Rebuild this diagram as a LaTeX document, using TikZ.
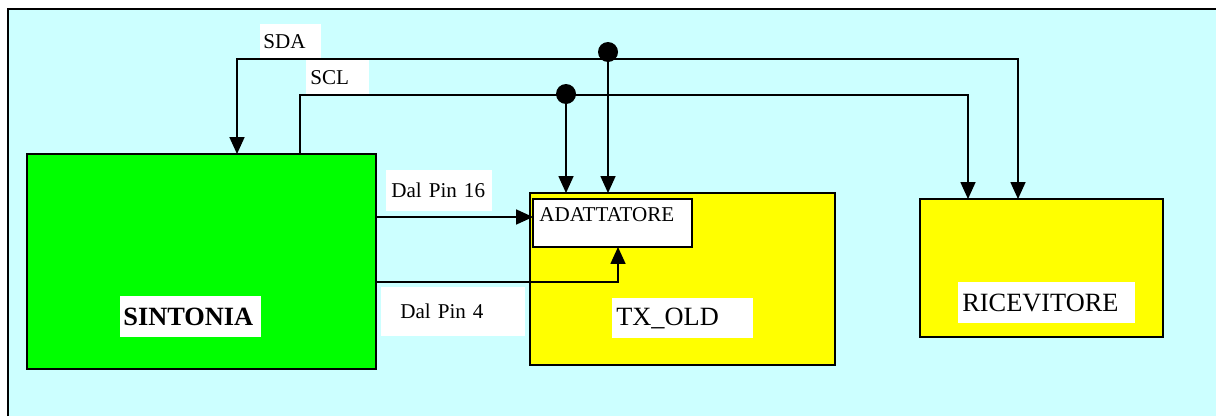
\documentclass[tikz,border=0pt]{standalone}
\usepackage{fontspec}
\setmainfont{Liberation Serif}
\usetikzlibrary{arrows.meta}
\definecolor{bgcyan}{HTML}{CCFFFF}
\definecolor{boxgreen}{HTML}{00FF00}
\definecolor{boxyellow}{HTML}{FFFF00}
\begin{document}
\begin{tikzpicture}[x=0.02cm,y=-0.02cm,
    blk/.style={draw,line width=1pt,inner sep=0pt,outer sep=0pt},
    wire/.style={line width=0.85pt},
    tip/.style={-{Triangle[length=9.6pt,width=8.5pt]}},
    lbl/.style={fill=white,anchor=west,align=left,inner ysep=0pt,font=\fontsize{12}{14}\selectfont},
    big/.style={font=\fontsize{15}{17}\selectfont},
    dot/.style={circle,fill=black,inner sep=0pt,minimum size=0.4cm}]
  \useasboundingbox (0,0) rectangle (1216,416);
  \fill[bgcyan] (8,9) rectangle (1216,416);
  \draw[line width=1.2pt] (8,416) -- (8,9) -- (1216,9);
  % blocks
  \node[blk,fill=boxgreen,minimum width=6.98cm,minimum height=4.30cm] (sintonia) at (201.5,261.5) {};
  \node[blk,fill=boxyellow,minimum width=6.10cm,minimum height=3.44cm] (txold) at (682.5,279) {};
  \node[blk,fill=white,minimum width=3.18cm,minimum height=0.96cm] (adattatore) at (612.5,223) {};
  \node[anchor=north west,inner xsep=0.12cm,inner ysep=0.16cm,font=\fontsize{12}{14}\selectfont] (adattxt) at (adattatore.north west) {ADATTATORE};
  \node[blk,fill=boxyellow,minimum width=4.86cm,minimum height=2.76cm] (ricevitore) at (1041.5,268) {};
  % block labels
  \node[lbl,big,inner xsep=0.06cm,text width=2.70cm,minimum height=0.82cm] (sintxt) at (120,316.5) {\bfseries SINTONIA};
  \node[lbl,big,inner xsep=0.08cm,text width=2.66cm,minimum height=0.80cm] (txtxt) at (612,318) {TX\_OLD};
  \node[lbl,big,inner xsep=0.08cm,text width=3.38cm,minimum height=0.82cm] (ricetxt) at (958,302.5) {RICEVITORE};
  % bus labels
  \node[lbl,inner xsep=0.06cm,text width=1.10cm,minimum height=0.70cm] (sdatxt) at (260,41.5) {SDA};
  \node[lbl,inner xsep=0.08cm,text width=1.10cm,minimum height=0.70cm] (scltxt) at (306,77.5) {SCL};
  \node[lbl,inner xsep=0.10cm,text width=1.92cm,minimum height=0.82cm] (pin16txt) at (386,190) {Dal Pin 16};
  \node[lbl,inner xsep=0.38cm,text width=2.12cm,minimum height=0.98cm] (pin4txt) at (381,311.5) {Dal Pin 4};
  % bus corners
  \coordinate (sdaL) at (237,59);
  \coordinate (sdaR) at (1018,59);
  \coordinate (sclL) at (300,95);
  \coordinate (sclR) at (968,95);
  \coordinate (pin4) at (618,282);
  \node[dot] (sdadot) at (608,52) {};
  \node[dot] (scldot) at (566,94) {};
  % connectors
  \draw[wire,{Triangle[length=9.6pt,width=8.5pt]}-{Triangle[length=9.6pt,width=8.5pt]}] (ricevitore.north -| sdaR) -- (sdaR) -- (sdaL) -- (sintonia.north -| sdaL);
  \draw[wire,tip] (sintonia.north -| sclL) -- (sclL) -- (sclR) -- (ricevitore.north -| sclR);
  \draw[wire,tip] (sdadot.center) -- (txold.north -| sdadot);
  \draw[wire,tip] (scldot.center) -- (txold.north -| scldot);
  \draw[wire,tip] ([yshift=0.12cm]sintonia.east |- adattatore.west) -- ([yshift=0.12cm]adattatore.west);
  \draw[wire,tip] (sintonia.east |- pin4) -| (adattatore.south -| pin4);
\end{tikzpicture}
\end{document}
